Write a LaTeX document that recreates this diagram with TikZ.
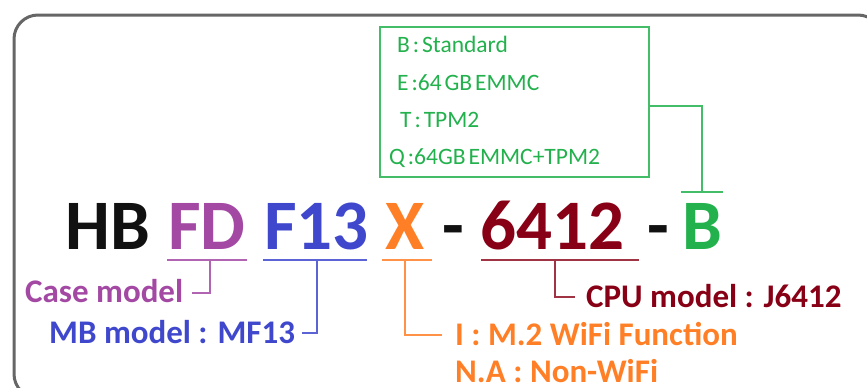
\documentclass[tikz,border=0pt]{standalone}
\usepackage{fontspec}
\setmainfont{Carlito}
\newfontfamily\optfont[WordSpace=0.55]{Carlito}
\definecolor{cblack}{HTML}{111111}
\definecolor{cpurple}{HTML}{A349A4}
\definecolor{cblue}{HTML}{3F48CC}
\definecolor{corange}{HTML}{FF7F27}
\definecolor{cred}{HTML}{880015}
\definecolor{cgreen}{HTML}{22B14C}
\definecolor{cframe}{HTML}{666666}
\begin{document}
\begin{tikzpicture}[x=1pt,y=-1pt,
  big/.style={inner sep=0pt,anchor=base west,font=\fontsize{71}{80}\selectfont\bfseries},
  lab/.style={inner sep=0pt,anchor=base west,font=\fontsize{33}{36}\selectfont\bfseries},
  opt/.style={inner sep=0pt,anchor=base west,font=\optfont\fontsize{23.5}{26}\selectfont,text=cgreen},
  conn/.style={line width=2pt},
]
\useasboundingbox (0,0) rectangle (867,388);
\draw[cframe,line width=3pt,rounded corners=24pt] (14,15) rectangle (882,398);

% option box
\node[draw=cgreen!85!white,line width=1.6pt,minimum width=269pt,minimum height=150pt,inner sep=0pt,anchor=north west] (box) at (379,26) {};
\node[opt] (o1) at (397,52) {B : Standard};
\node[opt] (o2) at (397,90) {E :64 GB EMMC};
\node[opt] (o3) at (400,127) {T : TPM2};
\node[opt] (o4) at (389,164) {Q :64GB EMMC+TPM2};

% main code
\node[big,text=cblack] (hb) at (65,249) {HB};
\node[big,text=cpurple] (fd) at (168,249) {FD};
\node[big,text=cblue] (f13) at (264,249) {F13};
\node[big,text=corange] (x) at (385,249) {X};
\node[big,text=cblack] (d1) at (442,249) {-};
\node[big,text=cred] (n6412) at (480,249) {6412};
\node[big,text=cblack] (d2) at (647,249) {-};
\node[big,text=cgreen] (b) at (682,249) {B};

% underline coordinates
\coordinate (ufdl) at (167,260); \coordinate (ufdr) at (247,260);
\coordinate (uf13l) at (263,260); \coordinate (uf13r) at (367,260);
\coordinate (uxl) at (382,260); \coordinate (uxr) at (432,260);
\coordinate (u64l) at (481,260); \coordinate (u64r) at (639,260);
\coordinate (tbl) at (681,192); \coordinate (tbr) at (723,192);

\draw[conn,cpurple!85!white] (ufdl) -- (ufdr);
\draw[conn,cblue!85!white] (uf13l) -- (uf13r);
\draw[conn,corange!85!white] (uxl) -- (uxr);
\draw[conn,cred!80!white] (u64l) -- (u64r);
\draw[conn,cgreen!85!white,line width=2.4pt] (tbl) -- (tbr);

% labels
\node[lab,text=cpurple] (case) at (25,302) {Case model};
\node[lab,text=cblue] (mb) at (49,343) {MB model : MF13};
\node[lab,text=cred] (cpu) at (586,307) {CPU model : J6412};
\node[lab,text=corange] (wifi) at (455,345) {I : M.2 WiFi Function};
\node[lab,text=corange] (nowifi) at (455,382) {N.A : Non-WiFi};

% connectors
\draw[conn,cpurple!85!white] (210,260) |- (192,293);
\draw[conn,cblue!85!white] (317,260) |- (302,333);
\draw[conn,corange!85!white] (405,260) |- (442,335);
\draw[conn,cred!80!white] (555,260) |- (575,297);
\draw[conn,cgreen!85!white] (702,192) |- (box.east |- 0,106);
\end{tikzpicture}
\end{document}
